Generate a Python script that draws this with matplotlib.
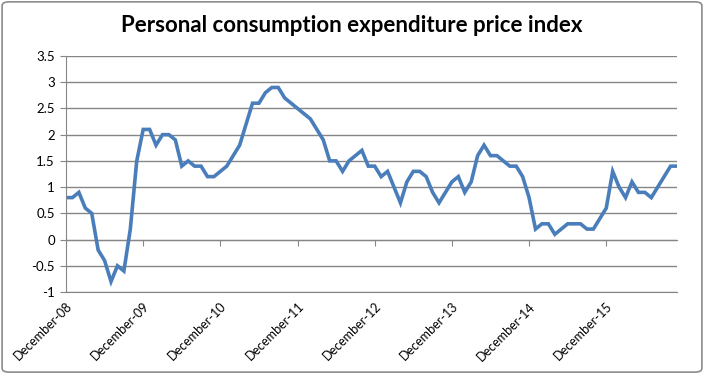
import numpy as np
import matplotlib
matplotlib.use('Agg')
import matplotlib.pyplot as plt
from matplotlib.patches import FancyBboxPatch
from matplotlib.ticker import FuncFormatter

# monthly PCE price index, % change from a year earlier, Dec 2008 .. Nov 2016
pce = [0.8, 0.8, 0.9, 0.6, 0.5, -0.2, -0.4, -0.8, -0.5, -0.6, 0.2, 1.5,
       2.1, 2.1, 1.8, 2.0, 2.0, 1.9, 1.4, 1.5, 1.4, 1.4, 1.2, 1.2,
       1.3, 1.4, 1.6, 1.8, 2.2, 2.6, 2.6, 2.8, 2.9, 2.9, 2.7, 2.6,
       2.5, 2.4, 2.3, 2.1, 1.9, 1.5, 1.5, 1.3, 1.5, 1.6, 1.7, 1.4,
       1.4, 1.2, 1.3, 1.0, 0.7, 1.1, 1.3, 1.3, 1.2, 0.9, 0.7, 0.9,
       1.1, 1.2, 0.9, 1.1, 1.6, 1.8, 1.6, 1.6, 1.5, 1.4, 1.4, 1.2,
       0.8, 0.2, 0.3, 0.3, 0.1, 0.2, 0.3, 0.3, 0.3, 0.2, 0.2, 0.4,
       0.6, 1.3, 1.0, 0.8, 1.1, 0.9, 0.9, 0.8, 1.0, 1.2, 1.4, 1.4]
tick_labels = ['December-08', 'December-09', 'December-10', 'December-11',
               'December-12', 'December-13', 'December-14', 'December-15']

grid_col = '#868686'
font = ['Lato', 'DejaVu Sans']

fig = plt.figure(figsize=(7.04, 3.74), dpi=100)
ax = fig.add_axes([66/704, 1-292/374, (677-66)/704, (292-56)/374])

x = np.arange(len(pce))
ax.plot(x, pce, color='#4a7ebb', lw=2.6, solid_joinstyle='miter')

ax.set_xlim(0, len(pce) - 1)
ax.set_ylim(-1, 3.5)
ax.set_yticks(np.arange(-1, 3.51, 0.5))
ax.yaxis.set_major_formatter(FuncFormatter(lambda v, p: f'{v:g}'))
ax.grid(axis='y', color=grid_col, lw=1)
ax.set_axisbelow(True)

for s in ['top', 'right']:
    ax.spines[s].set_visible(False)
ax.spines['left'].set_color(grid_col)
ax.spines['bottom'].set_color(grid_col)

ticks = np.arange(0, len(pce), 12)
ax.set_xticks(ticks)
ax.set_xticklabels(tick_labels, rotation=45, ha='right', va='top',
                   rotation_mode='anchor', family=font, fontsize=9)
ax.tick_params(axis='x', length=0, pad=6)
ax.tick_params(axis='y', length=4, color=grid_col, labelsize=9.5, pad=4)
for t in ax.get_yticklabels():
    t.set_family(font)

# category axis crosses at zero, with its tick marks
zero = (0 - (-1)) / 4.5
sec = ax.secondary_xaxis(zero)
sec.set_xticks(ticks)
sec.set_xticklabels([])
sec.tick_params(axis='x', direction='out', length=4, color=grid_col)
sec.spines['bottom'].set_color(grid_col)

fig.text(0.5, 0.932, 'Personal consumption expenditure price index',
         ha='center', va='center', fontsize=16, fontweight='bold', family=font)

border = FancyBboxPatch((0.003, 0.005), 0.994, 0.99, boxstyle='round,pad=0,rounding_size=0.01',
                        transform=fig.transFigure, fill=False, ec='#8c8c8c', lw=1.2)
fig.patches.append(border)

fig.savefig('out.png', dpi=100)
